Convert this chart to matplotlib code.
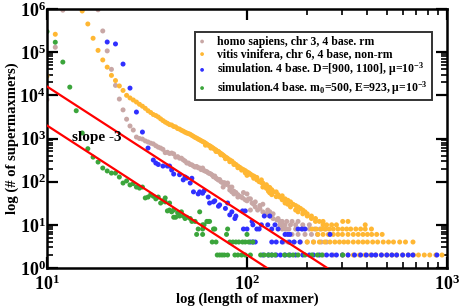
import matplotlib
matplotlib.use('Agg')
import matplotlib.pyplot as plt
from matplotlib.ticker import FixedLocator, FuncFormatter, NullFormatter
import numpy as np

plt.rcParams['font.family'] = ['Liberation Serif', 'DejaVu Serif']
plt.rcParams['font.weight'] = 'bold'
plt.rcParams['mathtext.fontset'] = 'custom'
plt.rcParams['mathtext.rm'] = 'Liberation Serif:bold'
plt.rcParams['mathtext.bf'] = 'Liberation Serif:bold'
plt.rcParams['mathtext.it'] = 'Liberation Serif:bold:italic'

# ---------------- data (length of maxmer, # of supermaxmers) ----------------
homo_points = [(10, 8000), (11, 130000), (12, 940000), (18, 960000), (19, 310000), (20, 107000),
               (21, 40000), (22, 17000), (23, 8200), (24, 4600), (25, 2800), (26, 1950), (27, 1570),
               (28, 1080), (29, 1000), (30, 970), (31, 880), (32, 830), (33, 780), (34, 750), (35, 680),
               (36, 630), (37, 600), (38, 560), (39, 470), (40, 480), (41, 450), (42, 460), (43, 440),
               (44, 370), (45, 380), (46, 350), (47, 350), (48, 320), (49, 300), (50, 270), (51, 270),
               (52, 250), (53, 245), (54, 230), (55, 218), (56, 225), (57, 210), (58, 207), (59, 190),
               (60, 207), (61, 180), (62, 175), (63, 170), (64, 160), (65, 155), (66, 150), (67, 142),
               (68, 130), (69, 135), (70, 120), (71, 115), (72, 109), (73, 112), (74, 100), (75, 96),
               (76, 75), (77, 95), (78, 90), (79, 86), (80, 93), (82, 64), (82, 75), (84, 75), (84, 58),
               (86, 60), (86, 52), (88, 56), (90, 50), (90, 44), (92, 46), (94, 44), (95, 42), (96, 56),
               (98, 38), (100, 36), (100, 52), (102, 40), (104, 22), (104, 40), (106, 32), (108, 30),
               (110, 26), (110, 34), (113, 22), (116, 24), (116, 28), (120, 20), (120, 30), (124, 18),
               (127, 17), (127, 22), (130, 16), (130, 20), (135, 14), (135, 18), (141, 13), (143, 14),
               (146, 12), (146, 10), (150, 10), (150, 12), (155, 8), (155, 10), (158, 8)]
homo_row_counts = [12, 10, 8, 6, 4, 2]
homo_row_x = [[158, 168, 180], [165, 175, 190, 205],
              [150, 162, 175, 190, 205, 218, 232, 248], [168, 180, 195, 210, 225],
              [152, 160, 172, 185, 200, 215, 235, 250], [240, 270]]

vitis_points = [(10, 28000), (11, 260000), (15, 900000), (16, 450000), (17, 210000), (18, 110000),
                (19, 66000), (20, 45000), (21, 29000), (22, 22000), (23, 16500), (24, 13000),
                (25, 10000), (26, 8700), (27, 7800), (28, 7000), (29, 6200), (30, 5600), (31, 5000),
                (32, 4400), (33, 4000), (34, 3600), (35, 3400), (36, 3150), (37, 2850), (38, 2600),
                (39, 2400), (40, 2250), (41, 2100), (42, 2050), (43, 1900), (44, 1850), (45, 1700),
                (46, 1650), (47, 1550), (48, 1480), (49, 1400), (50, 1340), (51, 1300), (52, 1250),
                (53, 1180), (54, 1120), (55, 1060), (56, 1020), (57, 970), (58, 930), (59, 890),
                (60, 850), (61, 820), (62, 780), (63, 740), (64, 700), (65, 680), (66, 650), (67, 620),
                (68, 590), (69, 560), (70, 540), (71, 510), (72, 500), (73, 470), (74, 450), (75, 430),
                (76, 410), (77, 390), (78, 370), (79, 360), (80, 345), (82, 320), (84, 300), (86, 270),
                (88, 250), (90, 230), (92, 215), (94, 200), (96, 190), (98, 180), (100, 168),
                (62, 700), (66, 600), (70, 500), (74, 420), (78, 340), (82, 290), (86, 250), (90, 210),
                (94, 185), (98, 160), (100, 140), (102, 160), (102, 150), (104, 150), (106, 140),
                (108, 120), (108, 135), (110, 128), (112, 110), (112, 125), (115, 100), (118, 95),
                (118, 110), (120, 93), (120, 75), (122, 80), (125, 70), (125, 85), (128, 75), (128, 60),
                (130, 73), (130, 55), (133, 65), (133, 50), (136, 58), (140, 58), (140, 45), (143, 50),
                (146, 44), (150, 47), (150, 38), (155, 40), (155, 32), (160, 37), (160, 30), (165, 34),
                (165, 26), (170, 30), (175, 28), (175, 22), (180, 26), (180, 20), (185, 24), (190, 22),
                (190, 18), (195, 20), (200, 18), (200, 16), (210, 16), (210, 14), (220, 14), (220, 12),
                (230, 12), (240, 12), (240, 10), (250, 10), (265, 10), (280, 10), (301, 12), (320, 12),
                (390, 10)]
vitis_row_counts = [8, 6, 4, 2]
vitis_row_x = [[211, 222, 235, 245, 258, 270, 285, 300, 315, 330, 350, 370, 390, 419],
               [226, 240, 255, 270, 285, 300, 320, 340, 360, 380, 400, 420, 445, 474],
               [200, 215, 230, 245, 260, 275, 290, 305, 320, 340, 360, 380, 400, 425, 450, 480,
                510, 540, 580, 620, 676],
               [300, 320, 340, 365, 390, 415, 440, 470, 500, 530, 560, 600, 640, 680, 720, 770,
                820, 880, 944]]

simD_points = [(20, 172000), (22, 155000), (24, 53000), (26, 14700), (28, 4100), (30, 1410), (32, 600),
               (34, 317), (35, 270), (36, 250), (38, 230), (40, 230), (41, 230), (42, 186), (43, 150),
               (46, 145), (48, 110), (49, 128), (50, 121), (52, 93), (53, 120), (54, 58), (57, 52),
               (58, 58), (60, 54), (61, 61), (64, 44), (65, 32), (68, 34), (69, 36), (72, 27), (73, 29),
               (78, 24), (80, 32), (82, 17), (84, 20), (87, 14), (88, 16), (95, 21), (96, 8), (98, 21),
               (100, 8), (106, 12), (107, 10), (112, 8), (115, 8), (118, 10), (122, 16), (127, 10),
               (130, 16), (133, 8), (138, 10), (143, 8)]
simD_row_counts = [8, 6, 4, 2]
simD_row_x = [[180, 188, 195], [155, 160, 164, 260],
              [104, 107, 110, 133, 140, 150, 163, 172, 184],
              [120, 128, 133, 140, 147, 155, 164, 175, 190, 205, 215, 230, 250, 265, 280, 300, 320,
               345, 370, 395, 420, 440, 470, 500, 530, 560, 600, 640, 675, 890]]

simM_points = [(10, 300000), (11, 170000), (12, 59000), (13, 15500), (14, 4400), (15, 1340), (16, 580),
               (17, 370), (18, 285), (19, 207), (20, 177), (21, 158), (22, 158), (23, 128), (24, 93),
               (25, 104), (26, 84), (27, 90), (28, 75), (29, 71), (30, 75), (31, 42), (32, 44), (33, 50),
               (34, 46), (35, 40), (36, 44), (37, 32), (38, 36), (39, 34), (39, 42), (40, 21), (41, 22),
               (41, 32), (42, 20), (43, 22), (43, 15), (44, 15), (45, 19), (46, 16), (47, 20), (48, 16),
               (49, 14), (50, 15), (52, 14), (53, 12), (55, 12), (56, 6), (57, 8), (58, 20), (60, 10),
               (60, 8), (60, 6), (61, 10), (63, 12), (64, 12), (65, 12), (67, 4), (68, 8), (69, 8),
               (70, 4), (79, 6), (80, 8), (100, 6)]
simM_row_counts = [4, 2]
simM_row_x = [[82, 85, 88, 91, 95, 98, 102, 107],
              [71, 73, 75, 77, 80, 87, 90, 94, 98, 104, 117, 122, 128, 133, 138, 154, 162, 170, 180,
               195, 211, 225, 237, 301]]

labels = ['homo sapiens, chr 3, 4 base. rm',
          'vitis vinifera, chr 6, 4 base, non-rm',
          'simulation. 4 base. D=[900, 1100], \u03bc=10$^{-3}$',
          'simulation.4 base. m$_0$=500, E=923, \u03bc=10$^{-3}$']
colors = ['#c8a7a5', '#ffb733', '#3030ff', '#3ba53b']

# power-law guide lines, slope -3
guide_slope = -3
guide_amplitudes = [1.6e7, 2.0e6]


def collect(points, counts, rows):
    xs = [p[0] for p in points]
    ys = [p[1] for p in points]
    for c, rx in zip(counts, rows):
        xs += rx
        ys += [c] * len(rx)
    return np.array(xs, float), np.array(ys, float)


series = [collect(homo_points, homo_row_counts, homo_row_x),
          collect(vitis_points, vitis_row_counts, vitis_row_x),
          collect(simD_points, simD_row_counts, simD_row_x),
          collect(simM_points, simM_row_counts, simM_row_x)]

fig = plt.figure(figsize=(4.6, 3.07), dpi=100)
ax = fig.add_axes([47 / 460, 39 / 307, 400 / 460, 259 / 307])

for (xs, ys), c, lab in zip(series, colors, labels):
    ax.scatter(xs, ys, s=13, color=c, edgecolors='none', label=lab, zorder=2, clip_on=True)

for a in guide_amplitudes:
    xend = a ** (1.0 / -guide_slope)
    xx = np.linspace(10, xend, 200)
    ax.plot(xx, a * xx ** guide_slope, color='#ff0000', lw=1.6, zorder=3)

ax.set_xscale('log')
ax.set_yscale('log')
ax.set_xlim(10, 1000)
ax.set_ylim(1, 1e6)

ax.xaxis.set_major_locator(FixedLocator([10, 100, 1000]))
ax.xaxis.set_minor_locator(FixedLocator([200, 300, 400, 500, 600, 700, 800, 900]))
ax.yaxis.set_major_locator(FixedLocator([1, 10, 100, 1e3, 1e4, 1e5, 1e6]))
ymin = [k * d for d in (1, 100, 1e4) for k in range(2, 10)]
ax.yaxis.set_minor_locator(FixedLocator(ymin))
fmt = FuncFormatter(lambda v, p: r'$\mathbf{10^{%d}}$' % int(round(np.log10(v))))
ax.xaxis.set_major_formatter(fmt)
ax.yaxis.set_major_formatter(fmt)
ax.xaxis.set_minor_formatter(NullFormatter())
ax.yaxis.set_minor_formatter(NullFormatter())

ax.tick_params(which='both', direction='in', top=True, right=True)
ax.tick_params(which='major', length=8, width=1.6, labelsize=13)
ax.tick_params(which='minor', length=4.5, width=1.2)
ax.tick_params(axis='y', which='major', pad=1)
ax.tick_params(axis='x', which='major', pad=5)
for s in ax.spines.values():
    s.set_linewidth(1.8)

ax.set_xlabel('log (length of maxmer)', fontsize=10.5, fontweight='bold', labelpad=-1)
ax.set_ylabel('log (# of supermaxmers)', fontsize=10.5, fontweight='bold', labelpad=0)

ax.text(13.3, 1030, 'slope -3', fontsize=11, fontweight='bold', va='center', ha='left', zorder=4)

leg = ax.legend(loc='upper left', bbox_to_anchor=(0.37, 0.911), borderaxespad=0,
                fontsize=8.5, frameon=True, fancybox=False, edgecolor='black',
                handlelength=0.6, handletextpad=1.0, borderpad=0.3, labelspacing=0.05,
                markerscale=0.75, scatterpoints=1)
leg.get_frame().set_linewidth(1.4)
leg.set_zorder(5)

fig.savefig('out.png', dpi=100)
